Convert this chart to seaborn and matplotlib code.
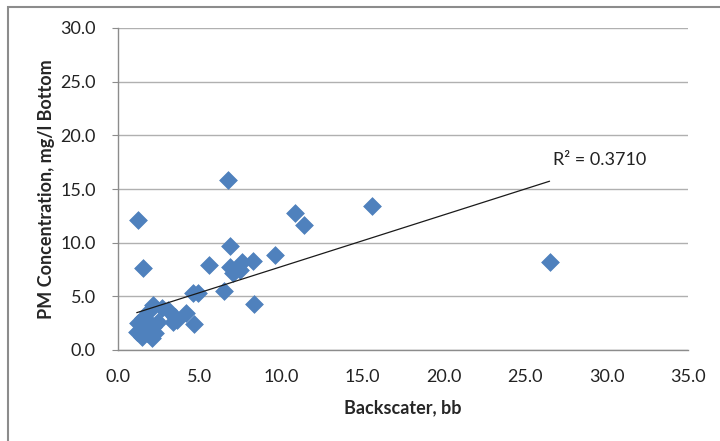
import matplotlib
matplotlib.use("Agg")
import matplotlib.pyplot as plt
import seaborn as sns
import numpy as np
import pandas as pd
from matplotlib.patches import Rectangle

backscatter = [1.23, 1.53, 6.75, 6.9, 10.86, 11.4, 15.58, 26.5, 9.63, 8.28, 7.6, 7.48,
               6.87, 7.06, 5.58, 8.34, 6.52, 4.9, 4.62, 4.17, 4.68, 3.6, 3.09, 2.17,
               1.86, 2.68, 1.55, 1.25, 1.15, 1.76, 2.17, 2.47, 3.4, 3.5, 2.3, 1.45, 2.07,
               1.6, 1.9, 2.0, 1.4, 1.7]
pm_conc = [12.1, 7.64, 15.84, 9.72, 12.77, 11.65, 13.42, 8.2, 8.85, 8.32, 8.23, 7.46,
           7.74, 7.18, 7.92, 4.26, 5.5, 5.31, 5.28, 3.48, 2.4, 2.8, 3.73, 4.19,
           3.57, 3.88, 2.95, 2.49, 1.7, 1.55, 2.17, 2.64, 2.64, 3.1, 1.55, 1.24, 1.09,
           2.0, 1.8, 2.4, 1.9, 2.3]
x_ticks = [0, 5, 10, 15, 20, 25, 30, 35]
y_ticks = [0, 5, 10, 15, 20, 25, 30]
r2_label = "R² = 0.3710"

df = pd.DataFrame({"bb": backscatter, "pm": pm_conc})

sns.set_style("white")
plt.rcParams['font.family'] = ['Lato', 'DejaVu Sans']

fig = plt.figure(figsize=(7.2, 4.41), dpi=100)
ax = fig.add_axes([118/720, 1-350/441, (688-118)/720, (350-28)/441])

sns.regplot(data=df, x="bb", y="pm", ax=ax, ci=None, truncate=True, marker="D",
            scatter_kws=dict(s=82, color="#4F81BD", edgecolor="#4F81BD",
                             linewidths=0.5, alpha=1, zorder=3),
            line_kws=dict(color="#1a1a1a", lw=0.9, zorder=4))

ax.set_xlim(0, 35)
ax.set_ylim(0, 30)
ax.set_xticks(x_ticks)
ax.set_yticks(y_ticks)
ax.set_xticklabels([f"{v:.1f}" for v in x_ticks], fontsize=13, color="#222222")
ax.set_yticklabels([f"{v:.1f}" for v in y_ticks], fontsize=13, color="#222222")
ax.yaxis.grid(True, color="#b0b0b0", lw=1)
ax.set_axisbelow(True)
ax.spines["right"].set_visible(False)
ax.spines["top"].set_visible(False)
for s in ["left", "bottom"]:
    ax.spines[s].set_color("#8c8c8c")
    ax.spines[s].set_linewidth(1)
ax.tick_params(axis="y", length=4, color="#8c8c8c", pad=12, left=True)
ax.tick_params(axis="x", length=0, pad=14, bottom=False)

ax.set_xlabel("Backscater, bb", fontsize=13, fontweight="bold", labelpad=10)
ax.set_ylabel("PM Concentration, mg/l Bottom", fontsize=13, fontweight="bold", labelpad=4)

ax.text(553/720, 1-160/441, r2_label, transform=fig.transFigure, fontsize=13,
        va="center", ha="left", color="#222222")

fig.patches.append(Rectangle((8/720, -0.1), 1.2, 1-7/441+0.1, transform=fig.transFigure,
                             fill=False, edgecolor="#8c8c8c", lw=1.5))

fig.savefig("out.png", dpi=100)
